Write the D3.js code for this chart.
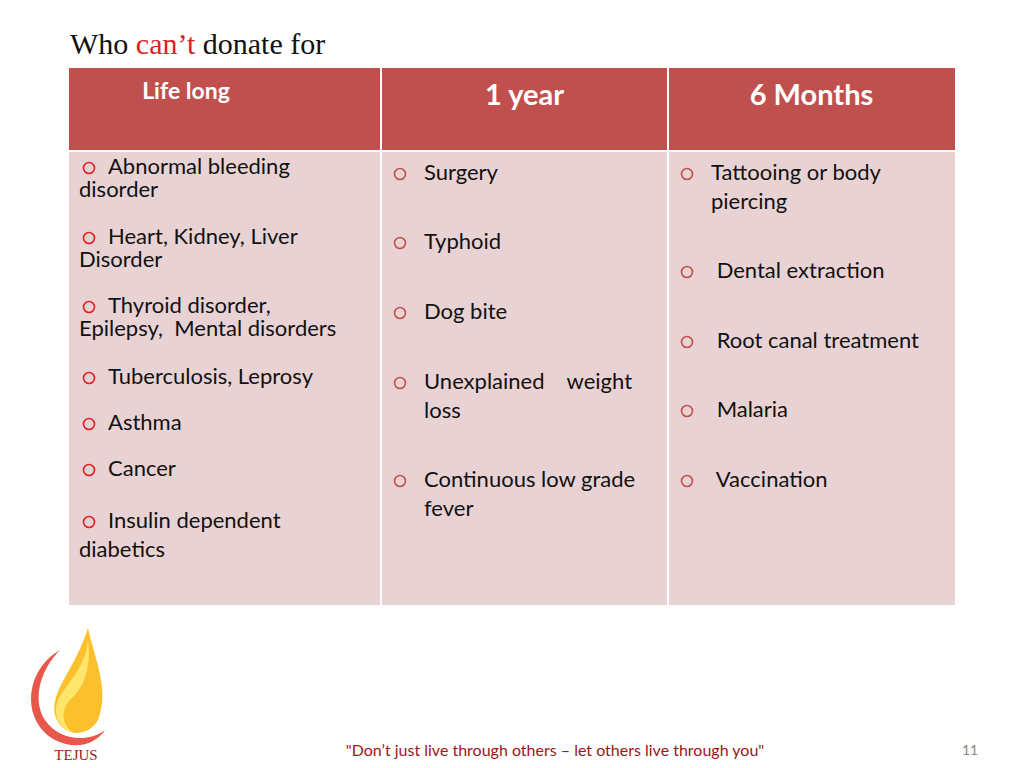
<!DOCTYPE html>
<html><head><meta charset="utf-8">
<script src="https://cdn.jsdelivr.net/npm/d3@7"></script>
<style>body{margin:0;background:#fff}svg{display:block}</style>
</head><body>
<svg id="slide" width="1024" height="768"></svg>
<script>
const headers = ["Life long", "1 year", "6 Months"];
const lifeLong = [["Abnormal bleeding", "disorder"], ["Heart, Kidney, Liver", "Disorder"],
  ["Thyroid disorder,", "Epilepsy,  Mental disorders"], ["Tuberculosis, Leprosy"], ["Asthma"],
  ["Cancer"], ["Insulin dependent", "diabetics"]];
const oneYear = [["Surgery"], ["Typhoid"], ["Dog bite"], ["Unexplained    weight", "loss"],
  ["Continuous low grade", "fever"]];
const sixMonths = [["Tattooing or body", "piercing"], [" Dental extraction"], [" Root canal treatment"],
  [" Malaria"], [" Vaccination"]];
const columns = [lifeLong, oneYear, sixMonths];

// layout
const colX = [69, 381, 668, 955];
const itemY = [[174, 244, 313, 384, 430, 476, 528], [180, 249, 319, 389, 487], [180, 278, 348, 417, 487]];
const lineGap = [[23, 23, 23, 23, 23, 23, 29], 29, 29];
const wrapX = [79, 424, 711];
const bulletX = [88, 399, 686];
const textX = [108, 424, 711];

const svg = d3.select("#slide");
const font = "Lato, 'Open Sans', sans-serif";

const title = svg.append("text").attr("x", 70).attr("y", 54)
  .attr("font-family", "'Liberation Serif', serif").attr("font-size", 30).attr("fill", "#111");
title.append("tspan").text("Who ");
title.append("tspan").attr("fill", "#e0201e").text("can’t");
title.append("tspan").text(" donate for");

const x = d3.scaleOrdinal().domain(headers).range(colX.slice(0, 3));
headers.forEach((h, i) => {
  const w = colX[i + 1] - colX[i];
  svg.append("rect").attr("x", x(h)).attr("y", 68).attr("width", w).attr("height", 82).attr("fill", "#c0504d");
  svg.append("rect").attr("x", x(h)).attr("y", 152).attr("width", w).attr("height", 453).attr("fill", "#e9d2d3");
  svg.append("text").attr("x", i === 0 ? 186 : x(h) + w / 2).attr("y", i === 0 ? 99 : 105)
    .attr("text-anchor", "middle").attr("font-family", font).attr("font-weight", "bold")
    .attr("font-size", i === 0 ? 23 : 29).attr("fill", "#fff").text(h);
});
svg.selectAll("line.sep").data([381, 668]).join("line")
  .attr("x1", d => d).attr("x2", d => d).attr("y1", 68).attr("y2", 605)
  .attr("stroke", "#fff").attr("stroke-width", 2);

columns.forEach((items, c) => {
  items.forEach((lines, k) => {
    const y0 = itemY[c][k];
    const gap = Array.isArray(lineGap[c]) ? lineGap[c][k] : lineGap[c];
    svg.append("circle").attr("cx", bulletX[c] + 1).attr("cy", y0 - 6).attr("r", 5.5)
      .attr("fill", "none").attr("stroke", c === 0 ? "#e0201e" : "#c0504d").attr("stroke-width", 1.6);
    lines.forEach((t, j) => {
      svg.append("text").attr("x", j === 0 ? textX[c] : wrapX[c]).attr("y", y0 + j * gap)
        .attr("font-family", font).attr("font-size", 22).attr("fill", "#111")
        .attr("xml:space", "preserve").style("white-space", "pre").text(t);
    });
  });
});

// logo
const g = svg.append("g");
g.append("path").attr("d", "M60,650 C25,670 20,720 55,740 C75,750 95,745 105,730 C90,742 60,742 45,720 C32,700 40,670 60,650Z")
  .attr("fill", "#e53a2a").attr("opacity", 0.85);
g.append("path").attr("d", "M88,628 C95,660 110,690 98,720 C88,738 62,738 55,715 C50,690 75,670 88,628Z")
  .attr("fill", "#fbc02d");
g.append("path").attr("d", "M88,640 C92,670 82,690 70,700 C60,710 62,728 75,733 C60,730 52,715 58,700 C65,685 85,670 88,640Z")
  .attr("fill", "#fde66b");
g.append("text").attr("x", 76).attr("y", 760).attr("text-anchor", "middle")
  .attr("font-family", "'Liberation Serif', serif").attr("font-size", 15).attr("fill", "#9b1b1b").text("TEJUS");

svg.append("text").attr("x", 555).attr("y", 756).attr("text-anchor", "middle")
  .attr("font-family", font).attr("font-size", 16).attr("fill", "#a0141a")
  .text("\"Don’t just live through others – let others live through you\"");
svg.append("text").attr("x", 970).attr("y", 755).attr("text-anchor", "middle")
  .attr("font-family", font).attr("font-size", 14).attr("fill", "#888").text("11");
</script>
</body></html>
